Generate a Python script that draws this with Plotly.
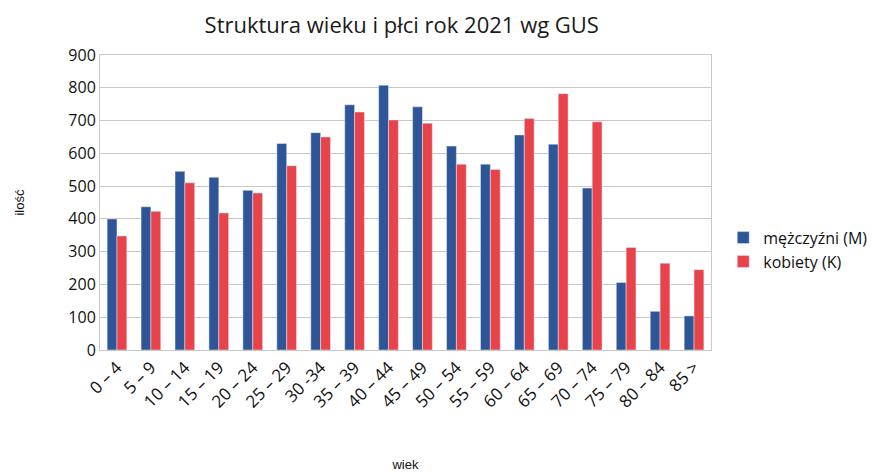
import plotly.graph_objects as go

groups = ["0 – 4", "5 – 9", "10 – 14", "15 – 19", "20 – 24", "25 – 29", "30 -34", "35 – 39",
          "40 – 44", "45 – 49", "50 – 54", "55 – 59", "60 – 64", "65 – 69", "70 – 74",
          "75 – 79", "80 – 84", "85 >"]
men = [400, 437, 545, 527, 487, 630, 663, 748, 808, 742, 622, 567, 656, 628, 494, 206, 118, 104]
women = [348, 423, 510, 418, 479, 562, 650, 726, 702, 692, 567, 551, 706, 782, 696, 313, 265, 245]

fig = go.Figure()
fig.add_trace(go.Bar(x=groups, y=men, name="mężczyźni (M)", marker_color="#2d5597"))
fig.add_trace(go.Bar(x=groups, y=women, name="kobiety (K)", marker_color="#e8434b"))

fig.update_layout(
    width=877, height=472,
    margin=dict(l=92, r=165, t=47, b=130),
    paper_bgcolor="white", plot_bgcolor="white",
    title=dict(text="Struktura wieku i płci rok 2021 wg GUS", x=0.449, xanchor="center",
               y=0.963, yanchor="middle", font=dict(family="Open Sans", size=22, color="#1a1a1a")),
    barmode="group", bargap=0.42, bargroupgap=0,
    font=dict(family="Open Sans", color="#111"),
    legend=dict(x=1.02, y=0.34, xanchor="left", yanchor="middle",
                font=dict(family="Open Sans", size=16, color="#111"),
                itemwidth=30, tracegroupgap=2),
    showlegend=True,
)
fig.update_xaxes(tickangle=-45, tickfont=dict(size=17, family="Open Sans", color="#111"),
                 showline=True, linecolor="#c8c8c8", mirror=True, showgrid=False,
                 title=dict(text="wiek", font=dict(family="Liberation Sans", size=13, color="#111"),
                            standoff=48))
fig.update_yaxes(range=[0, 900], dtick=100, tickfont=dict(size=16, family="Open Sans", color="#111"),
                 showgrid=True, gridcolor="#c8c8c8", showline=True, linecolor="#c8c8c8", mirror=True,
                 zeroline=False, ticks="", ticklen=0,
                 title=dict(text="ilość", font=dict(family="Liberation Sans", size=13, color="#111"),
                            standoff=40))

fig.write_html("out.html")
